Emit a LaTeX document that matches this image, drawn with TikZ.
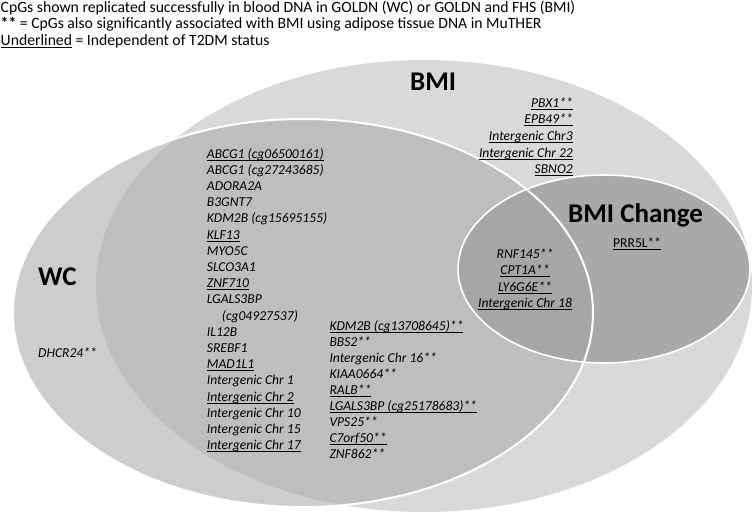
\documentclass[tikz,border=0pt]{standalone}
\usepackage{fontspec}
\setmainfont{Carlito}
\definecolor{cbmi}{HTML}{D9D9D9}
\definecolor{cwc}{HTML}{CDCDCD}
\definecolor{cboth}{HTML}{BEBEBE}
\definecolor{cchg}{HTML}{A9A9A9}
\definecolor{ctri}{HTML}{A6A6A6}
\newcommand\ulin[1]{\setbox0=\hbox{#1}\rlap{\rule[-2.4pt]{\wd0}{0.85pt}}\box0\relax}
\tikzset{
  gene/.style={font=\fontsize{13.6}{16}\selectfont\itshape, inner sep=0pt, anchor=base west},
  genr/.style={gene, anchor=base east},
  genc/.style={gene, anchor=base},
  setlabel/.style={font=\fontsize{27}{30}\selectfont\bfseries, inner sep=0pt, anchor=base west},
  headline/.style={font=\fontsize{15.7}{17}\selectfont, inner sep=0pt, anchor=base west},
}
\begin{document}
\begin{tikzpicture}[x=1pt,y=-1pt]
\useasboundingbox (0,0) rectangle (752,519);
% Venn areas
\fill[cbmi] (424,286) ellipse [x radius=328pt, y radius=226pt];
\fill[cwc] (303,313) ellipse [x radius=290pt, y radius=194pt];
\begin{scope}
  \clip (303,313) ellipse [x radius=290pt, y radius=194pt];
  \fill[cboth] (424,286) ellipse [x radius=328pt, y radius=226pt];
\end{scope}
\fill[cchg] (604,269) ellipse [x radius=146pt, y radius=94pt];
\begin{scope}
  \clip (303,313) ellipse [x radius=290pt, y radius=194pt];
  \fill[ctri] (604,269) ellipse [x radius=146pt, y radius=94pt];
\end{scope}
\draw[white, line width=1.6pt] (604,269) ellipse [x radius=146pt, y radius=94pt];
\draw[white, line width=2pt] (303,313) ellipse [x radius=290pt, y radius=194pt];

% header
\node[headline] (h1) at (0.5,12.3) {CpGs shown replicated successfully in blood DNA in GOLDN (WC) or GOLDN and FHS (BMI)};
\node[headline] (h2) at (0.5,29) {\textbf{**} = CpGs also significantly associated with BMI using adipose tissue DNA in MuTHER};
\node[headline] (h3) at (0.5,45.7) {\ulin{Underlined} = Independent of T2DM status};

% set labels
\node[setlabel] (lbmi) at (410,90) {BMI};
\node[setlabel] (lchg) at (568,222) {BMI Change};
\node[setlabel] (lwc) at (38,285) {WC};

% WC only
\node[gene] (dhcr) at (38,357) {DHCR24**};

% WC and BMI, left column
\foreach \t [count=\i from 0] in {
  {\ulin{ABCG1 (cg06500161)}},
  {ABCG1 (cg27243685)},
  {ADORA2A},
  {B3GNT7},
  {KDM2B (cg15695155)},
  {\ulin{KLF13}},
  {MYO5C},
  {SLCO3A1},
  {\ulin{ZNF710}},
  {LGALS3BP},
  {\hspace*{15pt}(cg04927537)},
  {IL12B},
  {SREBF1},
  {\ulin{MAD1L1}},
  {Intergenic Chr 1},
  {\ulin{Intergenic Chr 2}},
  {Intergenic Chr 10},
  {Intergenic Chr 15},
  {\ulin{Intergenic Chr 17}}}
  \node[gene] (wl\i) at (206.7,158+16.2*\i) {\t};

% WC and BMI, right column
\foreach \t [count=\i from 0] in {
  {\ulin{KDM2B (cg13708645)**}},
  {BBS2**},
  {Intergenic Chr 16**},
  {KIAA0664**},
  {\ulin{RALB**}},
  {\ulin{LGALS3BP (cg25178683)**}},
  {VPS25**},
  {\ulin{C7orf50**}},
  {ZNF862**}}
  \node[gene] (wr\i) at (329.3,330+16.1*\i) {\t};

% BMI only
\foreach \t [count=\i from 0] in {
  {\ulin{PBX1**}},
  {\ulin{EPB49**}},
  {\ulin{Intergenic Chr3}},
  {\ulin{Intergenic Chr 22}},
  {\ulin{SBNO2}}}
  \node[genr] (bm\i) at (573,107+16.7*\i) {\t};

% WC, BMI and BMI change
\foreach \t [count=\i from 0] in {
  {RNF145**},
  {\ulin{CPT1A**}},
  {\ulin{LY6G6E**}},
  {\ulin{Intergenic Chr 18}}}
  \node[genc] (tr\i) at (525,258+16.5*\i) {\t};

% BMI and BMI change
\node[gene, font=\fontsize{13.6}{16}\selectfont\upshape] (prr) at (613,247) {\ulin{PRR5L**}};
\end{tikzpicture}
\end{document}
